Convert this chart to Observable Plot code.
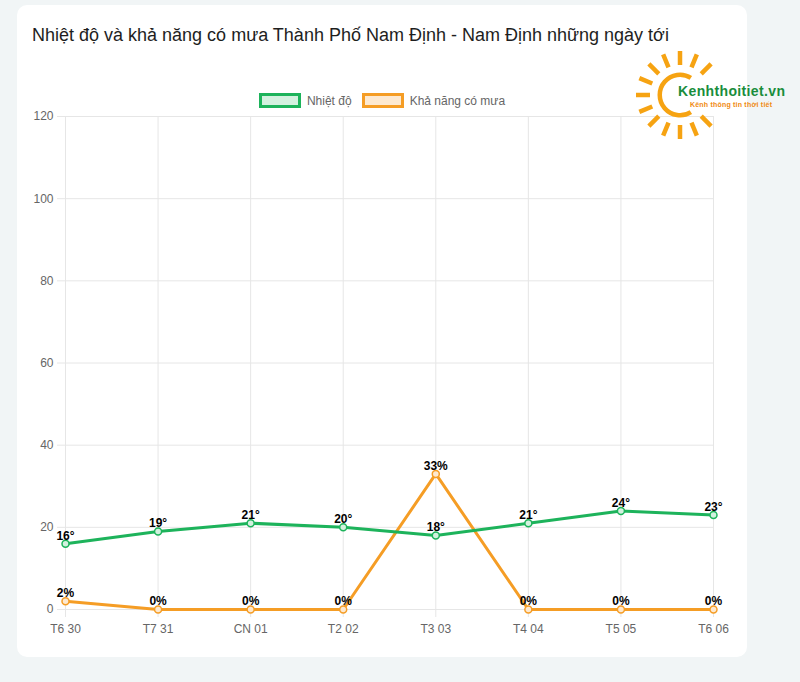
<!DOCTYPE html>
<html>
<head>
<meta charset="utf-8">
<script src="https://cdn.jsdelivr.net/npm/d3@7"></script>
<script src="https://cdn.jsdelivr.net/npm/@observablehq/plot@0.6"></script>
<style>
  html, body { margin: 0; padding: 0; }
  body { width: 800px; height: 682px; background: #f1f5f6; position: relative; overflow: hidden; font-family: "Liberation Sans", Arial, Helvetica, sans-serif; }
  #card { position: absolute; left: 17px; top: 5px; width: 730px; height: 652px; background: #fff; border-radius: 10px; }
  #title { position: absolute; left: 32px; top: 25px; font-size: 18px; color: #1e1e1e; white-space: nowrap; }
  #legend { position: absolute; top: 93px; left: 2px; width: 760px; display: flex; justify-content: center; font-size: 12px; color: #666; }
  .item { display: flex; align-items: center; margin: 0 5px; }
  .box { width: 36px; height: 9px; border: 3px solid; margin-right: 6px; }
  #chart { position: absolute; left: 0; top: 100px; }
  #logo { position: absolute; left: 630px; top: 45px; }
</style>
</head>
<body>
<div id="card"></div>
<div id="title">Nhiệt độ và khả năng có mưa Thành Phố Nam Định - Nam Định những ngày tới</div>
<div id="legend"></div>
<div id="chart"></div>
<svg id="logo" width="170" height="100" viewBox="0 0 170 100"></svg>
<script>
const days = ["T6 30", "T7 31", "CN 01", "T2 02", "T3 03", "T4 04", "T5 05", "T6 06"];
const temperature = [16, 19, 21, 20, 18, 21, 24, 23];
const rainChance = [2, 0, 0, 0, 33, 0, 0, 0];
const yTicks = [0, 20, 40, 60, 80, 100, 120];
const seriesNames = ["Nhiệt độ", "Khả năng có mưa"];
const seriesColors = ["#1db35b", "#f59d25"];
const seriesFills = ["#d3f1df", "#fde9d0"];

// legend
const legend = document.getElementById("legend");
seriesNames.forEach((n, i) => {
  const it = document.createElement("div");
  it.className = "item";
  it.innerHTML = `<div class="box" style="border-color:${seriesColors[i]};background:${seriesFills[i]}"></div><span>${n}</span>`;
  legend.appendChild(it);
});

const tempData = days.map((d, i) => ({day: d, v: temperature[i]}));
const rainData = days.map((d, i) => ({day: d, v: rainChance[i]}));
const grid = "#e6e6e6";

const chart = Plot.plot({
  width: 760,
  height: 550,
  marginLeft: 65,
  marginRight: 47,
  marginTop: 16,
  marginBottom: 41,
  style: {fontFamily: "'Liberation Sans', Arial, sans-serif", fontSize: "12px", background: "transparent", overflow: "visible"},
  x: {type: "point", domain: days, padding: 0, round: false, label: null},
  y: {domain: [0, 120], label: null},
  marks: [
    Plot.gridY(yTicks, {stroke: grid, strokeOpacity: 1}),
    Plot.gridX(days, {stroke: grid, strokeOpacity: 1}),
    Plot.axisY(yTicks, {tickSize: 8, tickPadding: 4, stroke: grid, fill: "#666", fontSize: 12}),
    Plot.axisX(days, {tickSize: 8, tickPadding: 7, stroke: grid, fill: "#666", fontSize: 12}),
    Plot.line(rainData, {x: "day", y: "v", stroke: seriesColors[1], strokeWidth: 3}),
    Plot.dot(rainData, {x: "day", y: "v", r: 3.5, stroke: seriesColors[1], fill: seriesFills[1], strokeWidth: 1.5}),
    Plot.line(tempData, {x: "day", y: "v", stroke: seriesColors[0], strokeWidth: 3}),
    Plot.dot(tempData, {x: "day", y: "v", r: 3.5, stroke: seriesColors[0], fill: seriesFills[0], strokeWidth: 1.5}),
    Plot.text(rainData, {x: "day", y: "v", text: d => d.v + "%", dy: -8, fontWeight: "bold", fontSize: 12, fill: "#000"}),
    Plot.text(tempData, {x: "day", y: "v", text: d => d.v + "°", dy: -8, fontWeight: "bold", fontSize: 12, fill: "#000"})
  ]
});
document.getElementById("chart").appendChild(chart);

// decorative logo (watermark)
const logo = d3.select("#logo");
const cx = 50, cy = 50;
const arc = d3.arc()({innerRadius: 18, outerRadius: 22.5, startAngle: Math.PI * 0.82, endAngle: Math.PI * 2.18});
logo.append("path").attr("d", arc).attr("transform", `translate(${cx},${cy})`).attr("fill", "#f6a312");
const rayAngles = [-45, -67.5, -90, -112.5, -135, -157.5, 180, 157.5, 135, 112.5, 90, 67.5, 45];
rayAngles.forEach(a => {
  const r = a * Math.PI / 180;
  logo.append("line")
    .attr("x1", cx + Math.cos(r) * 30).attr("y1", cy + Math.sin(r) * 30)
    .attr("x2", cx + Math.cos(r) * 44).attr("y2", cy + Math.sin(r) * 44)
    .attr("stroke", "#f6a312").attr("stroke-width", 4.5);
});
logo.append("text").attr("x", 48).attr("y", 51).attr("font-family", "'Liberation Sans', Arial, sans-serif").attr("font-weight", "bold")
  .attr("font-size", 14).attr("fill", "#1a8d3c").attr("textLength", 107).text("Kenhthoitiet.vn");
logo.append("text").attr("x", 60).attr("y", 62).attr("font-family", "'Liberation Sans', Arial, sans-serif").attr("font-weight", "bold")
  .attr("font-size", 7).attr("fill", "#f08a10").attr("textLength", 82).text("Kênh thông tin thời tiết");
</script>
</body>
</html>
